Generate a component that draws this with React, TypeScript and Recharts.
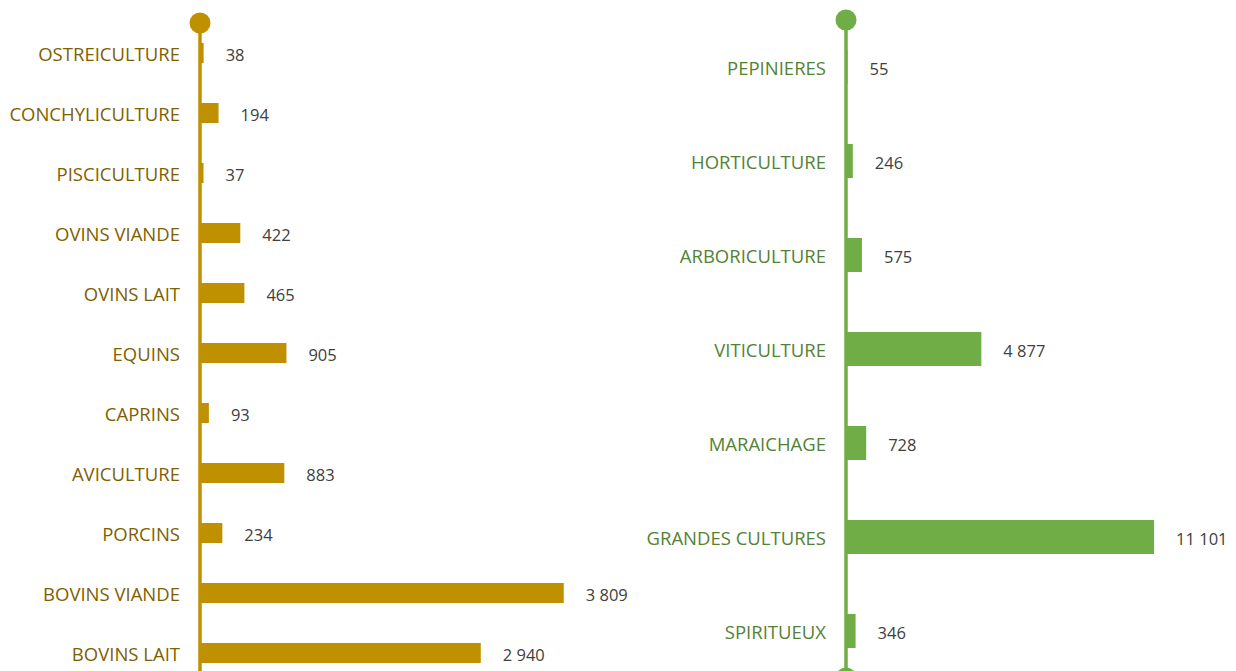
import { Bar, BarChart, LabelList, ReferenceLine, XAxis, YAxis } from 'recharts';

// Élevage (gauche)
const animalCats = [
  'OSTREICULTURE',
  'CONCHYLICULTURE',
  'PISCICULTURE',
  'OVINS VIANDE',
  'OVINS LAIT',
  'EQUINS',
  'CAPRINS',
  'AVICULTURE',
  'PORCINS',
  'BOVINS VIANDE',
  'BOVINS LAIT',
];
const animalValues = [38, 194, 37, 422, 465, 905, 93, 883, 234, 3809, 2940];

// Végétal (droite)
const plantCats = [
  'PEPINIERES',
  'HORTICULTURE',
  'ARBORICULTURE',
  'VITICULTURE',
  'MARAICHAGE',
  'GRANDES CULTURES',
  'SPIRITUEUX',
];
const plantValues = [55, 246, 575, 4877, 728, 11101, 346];

const fmt = (v: number) => String(v).replace(/\B(?=(\d{3})+(?!\d))/g, ' ');

const FONT = '"Open Sans", sans-serif';

const axisShape = (color: string) => (props: any) => {
  const { x1, y1, x2, y2 } = props;
  return (
    <g>
      <line x1={x1} y1={y1} x2={x2} y2={y2} stroke={color} strokeWidth={3.5} />
      <circle cx={x1} cy={y1} r={10.5} fill={color} />
      <circle cx={x2} cy={y2} r={10.5} fill={color} />
    </g>
  );
};

interface PanelProps {
  cats: string[];
  values: number[];
  color: string;
  textColor: string;
  max: number;
  width: number;
  axisWidth: number;
  top: number;
  bottom: number;
  right: number;
  barSize: number;
}

function Panel({ cats, values, color, textColor, max, width, axisWidth, top, bottom, right, barSize }: PanelProps) {
  const data = cats.map((name, i) => ({ name, value: values[i] }));
  return (
    <BarChart
      width={width}
      height={700}
      data={data}
      layout="vertical"
      margin={{ top, right, bottom, left: 0 }}
      barCategoryGap={0}
    >
      <XAxis type="number" domain={[0, max]} hide />
      <YAxis
        type="category"
        dataKey="name"
        width={axisWidth}
        interval={0}
        tickLine={false}
        axisLine={false}
        tickSize={0}
        tickMargin={20}
        tick={{ fill: textColor, fontSize: 18.5, fontFamily: FONT, dy: 1 }}
      />
      <Bar dataKey="value" fill={color} barSize={barSize} isAnimationActive={false}>
        <LabelList
          dataKey="value"
          position="right"
          offset={22}
          dy={2}
          formatter={(v: any) => fmt(Number(v))}
          style={{ fill: '#404040', fontSize: 16.5, fontFamily: FONT }}
        />
      </Bar>
      <ReferenceLine x={0} stroke={color} shape={axisShape(color)} />
    </BarChart>
  );
}

export default function App() {
  return (
    <div
      style={{
        position: 'absolute',
        left: 0,
        top: 0,
        width: 1236,
        height: 671,
        overflow: 'hidden',
        background: '#fff',
      }}
    >
      <div style={{ position: 'absolute', left: 0, top: 0 }}>
        <Panel
          cats={animalCats}
          values={animalValues}
          color="#BF9000"
          textColor="#7F6000"
          max={4000}
          width={640}
          axisWidth={200}
          top={23}
          bottom={17}
          right={58}
          barSize={20}
        />
      </div>
      <div style={{ position: 'absolute', left: 600, top: 0 }}>
        <Panel
          cats={plantCats}
          values={plantValues}
          color="#70AD47"
          textColor="#548235"
          max={12000}
          width={636}
          axisWidth={246}
          top={20}
          bottom={22}
          right={57}
          barSize={34}
        />
      </div>
    </div>
  );
}
